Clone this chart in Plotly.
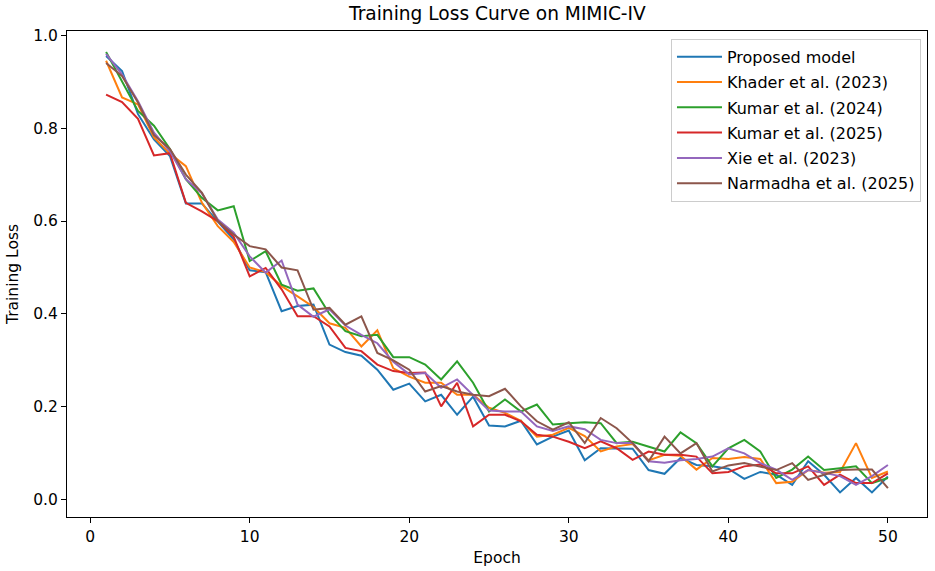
import plotly.graph_objects as go

epochs = list(range(1, 51))

proposed = [0.955, 0.923, 0.83, 0.776, 0.74, 0.638, 0.638, 0.598, 0.56, 0.494,
            0.49, 0.406, 0.417, 0.42, 0.334, 0.318, 0.31, 0.28, 0.237, 0.25,
            0.212, 0.226, 0.183, 0.222, 0.16, 0.158, 0.17, 0.119, 0.136, 0.149,
            0.085, 0.111, 0.11, 0.11, 0.064, 0.056, 0.09, 0.075, 0.072, 0.067,
            0.045, 0.06, 0.054, 0.032, 0.083, 0.054, 0.016, 0.047, 0.016, 0.05]
khader = [0.945, 0.866, 0.851, 0.78, 0.745, 0.718, 0.64, 0.589, 0.555, 0.5,
          0.49, 0.46, 0.438, 0.415, 0.38, 0.37, 0.33, 0.365, 0.283, 0.265,
          0.252, 0.252, 0.226, 0.226, 0.198, 0.187, 0.17, 0.136, 0.14, 0.155,
          0.137, 0.104, 0.115, 0.12, 0.085, 0.097, 0.095, 0.065, 0.09, 0.088,
          0.092, 0.088, 0.036, 0.039, 0.064, 0.058, 0.06, 0.122, 0.047, 0.061]
kumar_2024 = [0.964, 0.9, 0.837, 0.805, 0.755, 0.69, 0.65, 0.623, 0.632, 0.514,
              0.535, 0.463, 0.45, 0.455, 0.4, 0.363, 0.352, 0.355, 0.307, 0.307,
              0.291, 0.259, 0.298, 0.252, 0.19, 0.216, 0.19, 0.205, 0.162, 0.165,
              0.167, 0.165, 0.122, 0.125, 0.115, 0.104, 0.145, 0.122, 0.072, 0.111,
              0.129, 0.104, 0.047, 0.065, 0.093, 0.064, 0.068, 0.072, 0.036, 0.047]
kumar_2025 = [0.872, 0.856, 0.82, 0.741, 0.746, 0.639, 0.621, 0.6, 0.566, 0.481,
              0.499, 0.453, 0.395, 0.395, 0.373, 0.327, 0.32, 0.291, 0.277, 0.273,
              0.274, 0.201, 0.252, 0.158, 0.183, 0.183, 0.169, 0.14, 0.136, 0.125,
              0.111, 0.126, 0.111, 0.086, 0.104, 0.097, 0.097, 0.093, 0.057, 0.06,
              0.072, 0.076, 0.057, 0.057, 0.072, 0.032, 0.054, 0.036, 0.036, 0.057]
xie = [0.96, 0.915, 0.858, 0.79, 0.75, 0.69, 0.66, 0.603, 0.575, 0.524,
       0.489, 0.515, 0.42, 0.394, 0.41, 0.375, 0.355, 0.337, 0.297, 0.27,
       0.273, 0.241, 0.259, 0.226, 0.192, 0.19, 0.19, 0.158, 0.148, 0.158,
       0.152, 0.129, 0.122, 0.122, 0.083, 0.08, 0.085, 0.088, 0.093, 0.111,
       0.1, 0.079, 0.065, 0.043, 0.064, 0.058, 0.051, 0.032, 0.051, 0.075]
narmadha = [0.94, 0.912, 0.855, 0.785, 0.755, 0.70, 0.661, 0.6, 0.571, 0.546,
            0.539, 0.5, 0.494, 0.409, 0.413, 0.377, 0.395, 0.316, 0.3, 0.28,
            0.233, 0.245, 0.233, 0.226, 0.223, 0.239, 0.201, 0.169, 0.151, 0.167,
            0.122, 0.176, 0.154, 0.122, 0.083, 0.136, 0.1, 0.122, 0.061, 0.074,
            0.079, 0.072, 0.064, 0.079, 0.043, 0.054, 0.064, 0.065, 0.065, 0.025]

names = ["Proposed model", "Khader et al. (2023)", "Kumar et al. (2024)",
         "Kumar et al. (2025)", "Xie et al. (2023)", "Narmadha et al. (2025)"]
series = [proposed, khader, kumar_2024, kumar_2025, xie, narmadha]
colors = ["#1f77b4", "#ff7f0e", "#2ca02c", "#d62728", "#9467bd", "#8c564b"]

font = "DejaVu Sans"

fig = go.Figure()
for i, (name, vals, col) in enumerate(zip(names, series, colors)):
    fig.add_trace(go.Scatter(x=epochs, y=vals, mode="lines", name=name,
                             legendgroup=str(i),
                             line=dict(color=col, width=2)))

axis_style = dict(showgrid=False, zeroline=False, showline=True, linecolor="black",
                  linewidth=1, mirror=True, ticks="outside", ticklen=5,
                  tickcolor="black", tickfont=dict(family=font, size=15.5, color="black"))

fig.update_layout(
    width=935, height=571,
    margin=dict(l=67, r=8, t=31, b=54),
    paper_bgcolor="white", plot_bgcolor="white",
    title=dict(text="Training Loss Curve on MIMIC-IV", x=0.532, xanchor="center",
               y=0.977, yanchor="middle",
               font=dict(family=font, size=18.6, color="black")),
    xaxis=dict(axis_style, range=[-1.45, 52.45], tickvals=[0, 10, 20, 30, 40, 50],
               title=dict(text="Epoch", font=dict(family=font, size=15.5, color="black"),
                          standoff=7)),
    yaxis=dict(axis_style, range=[-0.037, 1.009],
               tickvals=[0.0, 0.2, 0.4, 0.6, 0.8, 1.0], tickformat=".1f",
               title=dict(text="Training Loss", font=dict(family=font, size=15.5, color="black"),
                          standoff=10)),
    legend=dict(x=0.993, y=0.984, xanchor="right", yanchor="top",
                bgcolor="rgba(255,255,255,0.8)", bordercolor="#cccccc", borderwidth=1,
                font=dict(family=font, size=16, color="black"), tracegroupgap=1.5,
                itemwidth=45),
    showlegend=True,
)

fig.write_html("out.html", config={"displayModeBar": False},
               post_script="document.body.style.margin='0';")
